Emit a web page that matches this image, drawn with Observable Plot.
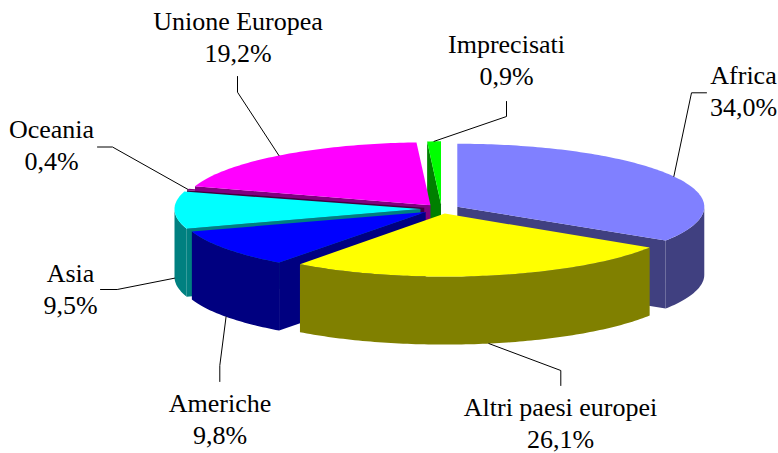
<!DOCTYPE html>
<html>
<head>
<meta charset="utf-8">
<script src="https://cdn.jsdelivr.net/npm/d3@7"></script>
<script src="https://cdn.jsdelivr.net/npm/@observablehq/plot@0.6"></script>
<style>html,body{margin:0;padding:0;background:#fff}svg{display:block}</style>
</head>
<body>
<div id="chart"></div>
<script>
// Data
const categories = ["Africa", "Altri paesi europei", "Americhe", "Asia", "Oceania", "Unione Europea", "Imprecisati"];
const shares = [34.0, 26.1, 9.8, 9.5, 0.4, 19.2, 0.9];
const labels = ["34,0%", "26,1%", "9,8%", "9,5%", "0,4%", "19,2%", "0,9%"];
// Styles
const topColors = ["#8080ff", "#ffff00", "#0000ff", "#00ffff", "#800080", "#ff00ff", "#00ff00"];
const sideColors = ["#404080", "#808000", "#000080", "#008080", "#400040", "#800080", "#008000"];
const paintOrder = [6, 5, 4, 3, 0, 2, 1];
// Layout of the 3D pie
const W = 778, H = 453;
const pie = {cx: 441, cy: 208.5, ry: 63, depth: 68, squash: 0.26};
const explodeBy = [18, 18, 19.5, 21, 18, 18, 18];
const rxBy = [247, 243, 246, 246, 247, 247, 245];
const labelX = [743, 560, 219.5, 70, 51, 237.5, 506];
const labelY = [89.5, 421.5, 417.5, 287.5, 143.5, 35.5, 58.5];
const elbows = [
  [[691, 92.3], [706, 92.3]],
  [[560.3, 370], [560.3, 385]],
  [[219.3, 365], [219.3, 381]],
  [[116.7, 289], [100, 289]],
  [[112, 146.5], [97, 146.5]],
  [[237, 91.7], [237, 76]],
  [[506, 116], [506, 101]]
];

const rad = d => d * Math.PI / 180;
const total = d3.sum(shares);
let acc = 0;
const slices = shares.map((v, i) => {
  const a0 = acc / total * 360;
  acc += v;
  const a1 = acc / total * 360;
  const mid = (a0 + a1) / 2;
  const e = explodeBy[i];
  const cx = pie.cx + e * Math.sin(rad(mid));
  const cy = pie.cy - e * pie.squash * Math.cos(rad(mid));
  const rim = a => [cx + rxBy[i] * Math.sin(rad(a)), cy - pie.ry * Math.cos(rad(a))];
  return {i, a0, a1, mid, cx, cy, rim};
});

// Polygons, painted back to front
const rows = [];
let pid = 0;
function addPoly(points, color) {
  const id = pid++;
  points.forEach(([x, y]) => rows.push({id, x, y, color}));
}
function arc(s, from, to) {
  const n = Math.max(2, Math.ceil(to - from));
  return d3.range(n + 1).map(k => s.rim(from + (to - from) * k / n));
}
function wall(s, a) {
  const [x, y] = s.rim(a);
  addPoly([[s.cx, s.cy], [x, y], [x, y + pie.depth], [s.cx, s.cy + pie.depth]], sideColors[s.i]);
}
for (const i of paintOrder) {
  const s = slices[i];
  if (Math.sin(rad(s.a0)) < 0) wall(s, s.a0);
  if (Math.sin(rad(s.a1)) > 0) wall(s, s.a1);
  const from = Math.max(s.a0, 90), to = Math.min(s.a1, 270);
  if (to > from) {
    const edge = arc(s, from, to);
    addPoly([...edge, ...edge.slice().reverse().map(([x, y]) => [x, y + pie.depth])], sideColors[i]);
  }
  addPoly([[s.cx, s.cy], ...arc(s, s.a0, s.a1)], topColors[i]);
}

// Leader lines start from the rim at each slice's middle angle
const leaders = [];
slices.forEach(s => {
  const [x, y] = s.rim(s.mid);
  const front = Math.cos(rad(s.mid)) < 0;
  const pts = [[x, front ? y + pie.depth : y], ...elbows[s.i]];
  pts.forEach(([px, py]) => leaders.push({id: s.i, x: px, y: py}));
});

const texts = categories.map((c, i) => ({text: c + "\n" + labels[i], x: labelX[i], y: labelY[i]}));

const chart = Plot.plot({
  width: W,
  height: H,
  margin: 0,
  style: {background: "#fff"},
  x: {domain: [0, W], range: [0, W], axis: null},
  y: {domain: [0, H], range: [0, H], axis: null},
  color: {type: "identity"},
  marks: [
    Plot.line(rows, {x: "x", y: "y", z: "id", fill: "color", stroke: null, curve: "linear"}),
    Plot.line(leaders, {x: "x", y: "y", z: "id", stroke: "#000", strokeWidth: 1, curve: "linear", strokeLinejoin: "miter"}),
    Plot.text(texts, {x: "x", y: "y", text: "text", fontFamily: "Liberation Serif", fontSize: 26, lineHeight: 1.23, fill: "#000", textAnchor: "middle"})
  ]
});
document.getElementById("chart").appendChild(chart);
</script>
</body>
</html>
